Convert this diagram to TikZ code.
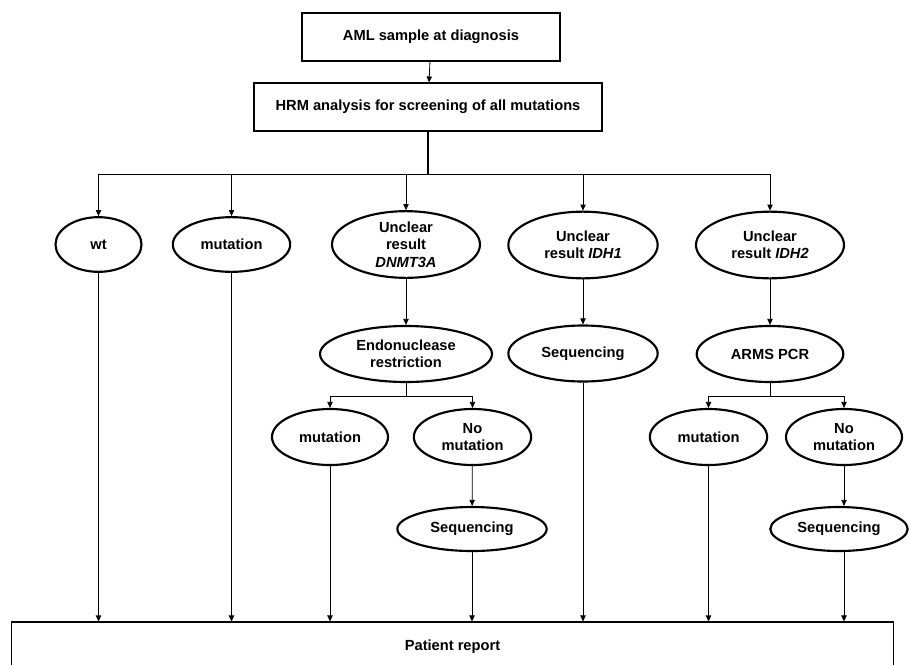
\documentclass[tikz,border=0pt]{standalone}
\usepackage{fontspec}
\setmainfont{Liberation Sans}
\usetikzlibrary{arrows.meta,shapes.geometric}

\begin{document}
\begin{tikzpicture}[
    x=0.75pt, y=-0.75pt,
    every node/.style={font=\fontsize{11}{13}\selectfont\bfseries, align=center},
    box/.style={draw, line width=0.8pt, inner sep=0pt},
    oval/.style={ellipse, draw, line width=1.6pt, inner sep=0pt},
    arr/.style={-{Triangle[length=4.5pt,width=4pt]}, line width=0.6pt},
    link/.style={line width=1.1pt},
]
\useasboundingbox (0,0) rectangle (909,664);
\clip (0,0) rectangle (909,664);

% Top boxes
\node[box, minimum width=193.5pt, minimum height=36pt] (aml) at (431,37) {AML sample at diagnosis};
\node[box, minimum width=261pt, minimum height=36pt] (hrm) at (428,107) {HRM analysis for screening of all mutations};

% First row of results
\node[oval, minimum width=64.5pt, minimum height=41pt] (wt) at (98.5,244.5) {wt};
\node[oval, minimum width=88pt, minimum height=41pt] (mut) at (231.5,244.5) {mutation};
\node[oval, minimum width=111pt, minimum height=50pt] (dnmt) at (406,244.5) {Unclear\\result\\\textit{DNMT3A}};
\node[oval, minimum width=112pt, minimum height=50pt] (idhone) at (583,245) {Unclear\\result \textit{IDH1}};
\node[oval, minimum width=111pt, minimum height=50pt] (idhtwo) at (770,245) {Unclear\\result \textit{IDH2}};

% Second row
\node[oval, minimum width=129pt, minimum height=42pt] (endo) at (406,354) {Endonuclease\\restriction};
\node[oval, minimum width=112pt, minimum height=42pt] (seqa) at (583,353.5) {Sequencing};
\node[oval, minimum width=110pt, minimum height=42pt] (arms) at (770,354) {ARMS PCR};

% Third row
\node[oval, minimum width=87pt, minimum height=42pt] (muta) at (330,437) {mutation};
\node[oval, minimum width=88pt, minimum height=42pt] (nomuta) at (472.5,437) {No\\mutation};
\node[oval, minimum width=88pt, minimum height=42pt] (mutb) at (708.5,437) {mutation};
\node[oval, minimum width=87pt, minimum height=42pt] (nomutb) at (844,437) {No\\mutation};

% Fourth row
\node[oval, minimum width=112pt, minimum height=33pt] (seqb) at (472,529) {Sequencing};
\node[oval, minimum width=103pt, minimum height=33pt] (seqc) at (839,529) {Sequencing};

% Report
\node[box, minimum width=662pt, minimum height=37.5pt] (report) at (452.5,647) {Patient report};

% Splitting points
\coordinate (bus) at (428,174);
\coordinate (ebus) at (406,396);
\coordinate (abus) at (770,396);

% Connectors
\draw[arr] (aml) -- (hrm);
\draw[link] (hrm.south) -- (bus);
\foreach \n in {wt,mut,dnmt,idhone,idhtwo}
    \draw[arr] (bus) -| (\n.north);
\draw[arr] (dnmt) -- (endo);
\draw[arr] (idhone) -- (seqa);
\draw[arr] (idhtwo) -- (arms);
\foreach \n in {muta,nomuta}
    \draw[arr] (endo.south) -- (ebus) -| (\n.north);
\foreach \n in {mutb,nomutb}
    \draw[arr] (arms.south) -- (abus) -| (\n.north);
\draw[arr] (nomuta) -- (seqb);
\draw[arr] (nomutb.south) -- (nomutb.south |- seqc.north);
\foreach \n in {wt,mut,muta,seqb,seqa,mutb}
    \draw[arr] (\n.south) -- (\n.south |- report.north);
\draw[arr] (nomutb.south |- seqc.south) -- (nomutb.south |- report.north);
\end{tikzpicture}
\end{document}
